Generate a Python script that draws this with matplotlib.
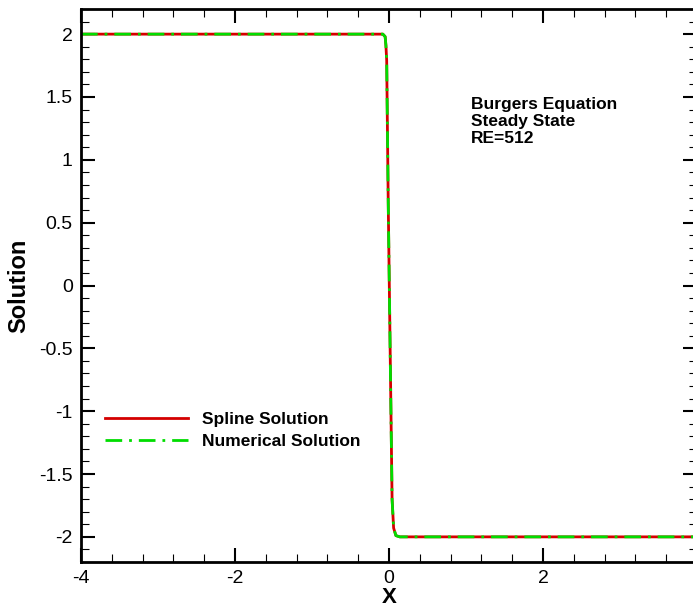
import numpy as np
import matplotlib.pyplot as plt
from matplotlib.ticker import MultipleLocator

# steady-state profile read along the shock
x_spline = [-4.0, -0.08, -0.05, -0.04, -0.03, -0.01, 0.02, 0.04, 0.06, 0.09, 0.14, 4.0]
u_spline = [2.0, 2.0, 1.98, 1.91, 1.79, 0.66, -0.75, -1.70, -1.93, -1.99, -2.0, -2.0]
x_num = [-4.0, -0.08, -0.05, -0.04, -0.03, -0.01, 0.02, 0.04, 0.06, 0.09, 0.14, 4.0]
u_num = [2.0, 2.0, 1.98, 1.91, 1.79, 0.66, -0.75, -1.70, -1.93, -1.99, -2.0, -2.0]

xticks = [-4, -2, 0, 2]
yticks = [-2, -1.5, -1, -0.5, 0, 0.5, 1, 1.5, 2]
ytick_labels = ['-2', '-1.5', '-1', '-0.5', '0', '0.5', '1', '1.5', '2']

plt.rcParams['font.family'] = ['Liberation Sans', 'DejaVu Sans']

fig = plt.figure(figsize=(6.93, 6.13), dpi=100)
ax = fig.add_axes([81/693, 1-562/613, (697-81)/693, (562-9)/613])

ax.plot(x_spline, u_spline, color='#d40000', lw=2.0, label='Spline Solution')
ax.plot(x_num, u_num, color='#00dd00', lw=2.0, dashes=(6, 2.5, 1, 2.5),
        label='Numerical Solution')

ax.set_xlim(-4, 4)
ax.set_ylim(-2.2, 2.2)
ax.set_xticks(xticks)
ax.set_xticklabels([str(t) for t in xticks])
ax.set_yticks(yticks)
ax.set_yticklabels(ytick_labels)
ax.xaxis.set_minor_locator(MultipleLocator(0.4))
ax.yaxis.set_minor_locator(MultipleLocator(0.1))
ax.tick_params(which='both', direction='in', top=True, right=True, labelsize=14)
ax.tick_params(which='major', length=10, width=1.5, pad=6)
ax.tick_params(which='minor', length=6, width=0.8)
for s in ax.spines.values():
    s.set_linewidth(2)

ax.set_xlabel('X', fontsize=16, fontweight='bold', labelpad=0)
ax.set_ylabel('Solution', fontsize=17, fontweight='bold', labelpad=6)

ax.text(1.065, 1.50, 'Burgers Equation\nSteady State\nRE=512', fontsize=12.5,
        fontweight='bold', va='top', ha='left', linespacing=1.15)

ax.legend(loc='center left', bbox_to_anchor=(0.039, 0.2380), frameon=False,
          handlelength=4.8, handletextpad=0.8, labelspacing=0.38,
          prop={'size': 12.5, 'weight': 'bold'}, borderpad=0, borderaxespad=0)

fig.savefig('out.png', dpi=100)
